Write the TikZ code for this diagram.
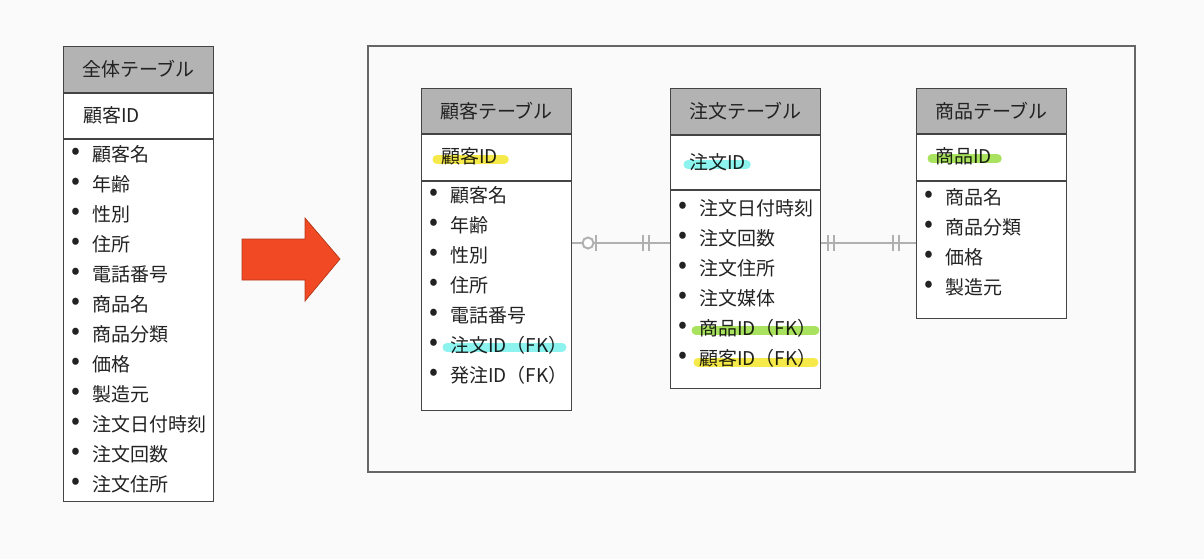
\documentclass[tikz,border=0pt]{standalone}
\usepackage{fontspec}
\setmainfont{Noto Sans CJK JP}
\usetikzlibrary{calc}
\definecolor{bg}{HTML}{FAFAFA}
\definecolor{txt}{HTML}{222222}
\definecolor{rim}{HTML}{444444}
\definecolor{headgray}{HTML}{B3B3B3}
\definecolor{relgray}{HTML}{B0B0B0}
\definecolor{arrowred}{HTML}{F04923}
\definecolor{hlyellow}{HTML}{F6EA4A}
\definecolor{hlcyan}{HTML}{8CF3EE}
\definecolor{hlgreen}{HTML}{A9E25E}

\begin{document}
\begin{tikzpicture}[x=0.02cm, y=-0.02cm,
    every node/.style={font=\fontsize{10.8}{13}\selectfont, text=txt},
    head/.style={draw=rim, fill=headgray, line width=0.6pt, anchor=north west, minimum width=3cm, inner sep=0pt},
    keyrow/.style={draw=rim, fill=white, line width=0.6pt, anchor=north west, minimum width=3cm, inner sep=0pt},
    body/.style={draw=rim, fill=white, line width=0.6pt, anchor=north west, minimum width=3cm, inner sep=0pt},
    key/.style={anchor=west, inner sep=0pt},
    dot/.style={inner sep=0pt, font=\fontsize{15}{15}\selectfont},
    field/.style={anchor=west, inner sep=0pt},
    rel/.style={draw=relgray, line width=1.1pt},
    hl/.style={line width=0.18cm, line cap=round, blend mode=multiply}
  ]
    % Fond
    \fill[bg] (0,0) rectangle (1204,559);

    % Cadre
    \draw[draw=black!60, line width=0.6pt] (368,46) rectangle (1135,472);

    % Fleche
    \draw[fill=arrowred, draw=arrowred!75!black, line width=0.4pt]
      (242,239) -- (305,239) -- (305,218) -- (340,259) -- (305,301) -- (305,280) -- (242,280) -- cycle;

    % 全体テーブル
    \node[head, minimum height=0.92cm] (ah) at (63,46) {全体テーブル};
    \node[keyrow, minimum height=0.9cm] (ak) at (ah.south west) {};
    \node[key] (akt) at ($(ak.west)+(20,-1)$) {顧客ID};
    \node[body, minimum height=7.24cm] (ab) at (ak.south west) {};
    \foreach \t [count=\i] in {顧客名,年齢,性別,住所,電話番号,商品名,商品分類,価格,製造元,注文日付時刻,注文回数,注文住所} {
      \node[dot] (ad\i) at ($(ab.north west)+(13,{15+(\i-1)*30})$) {\textbullet};
      \node[field] (af\i) at ($(ad\i)+(16,0)$) {\t};
    }

    % 顧客テーブル
    \node[head, minimum height=0.9cm] (kh) at (421,88) {顧客テーブル};
    \node[keyrow, minimum height=0.92cm] (kk) at (kh.south west) {};
    \node[key] (kkt) at ($(kk.west)+(20,-1)$) {顧客ID};
    \node[body, minimum height=4.58cm] (kb) at (kk.south west) {};
    \foreach \t [count=\i] in {顧客名,年齢,性別,住所,電話番号,注文ID（FK）,発注ID（FK）} {
      \node[dot] (kd\i) at ($(kb.north west)+(13,{14+(\i-1)*30})$) {\textbullet};
      \node[field] (kf\i) at ($(kd\i)+(16,0)$) {\t};
    }

    % 注文テーブル
    \node[head, minimum height=0.92cm] (oh) at (670,88) {注文テーブル};
    \node[keyrow, minimum height=1.08cm] (ok) at (oh.south west) {};
    \node[key] (okt) at ($(ok.west)+(19,0)$) {注文ID};
    \node[body, minimum height=3.96cm] (ob) at (ok.south west) {};
    \foreach \t [count=\i] in {注文日付時刻,注文回数,注文住所,注文媒体,商品ID（FK）,顧客ID（FK）} {
      \node[dot] (od\i) at ($(ob.north west)+(13,{18+(\i-1)*30})$) {\textbullet};
      \node[field] (of\i) at ($(od\i)+(16,0)$) {\t};
    }

    % 商品テーブル
    \node[head, minimum height=0.9cm] (sh) at (916,88) {商品テーブル};
    \node[keyrow, minimum height=0.92cm] (sk) at (sh.south west) {};
    \node[key] (skt) at ($(sk.west)+(19,-1)$) {商品ID};
    \node[body, minimum height=2.74cm] (sb) at (sk.south west) {};
    \foreach \t [count=\i] in {商品名,商品分類,価格,製造元} {
      \node[dot] (sd\i) at ($(sb.north west)+(13,{16+(\i-1)*30})$) {\textbullet};
      \node[field] (sf\i) at ($(sd\i)+(16,0)$) {\t};
    }

    % Surlignage
    \draw[hl, hlyellow] ([shift={(-4,3)}]kkt.west) -- ([shift={(6,3)}]kkt.east);
    \draw[hl, hlcyan] ([shift={(-3,2)}]kf6.west) -- ([shift={(-6,2)}]kf6.east);
    \draw[hl, hlcyan] ([shift={(-1,2)}]okt.west) -- ([shift={(0,2)}]okt.east);
    \draw[hl, hlgreen] ([shift={(-3,2)}]of5.west) -- ([shift={(-2,2)}]of5.east);
    \draw[hl, hlyellow] ([shift={(-1,4)}]of6.west) -- ([shift={(-3,4)}]of6.east);
    \draw[hl, hlgreen] ([shift={(-3,2)}]skt.west) -- ([shift={(5,2)}]skt.east);

    % Relations
    \coordinate (lvl) at (0,243);
    \draw[rel] (kb.east |- lvl) -- (ob.west |- lvl);
    \draw[rel] ($(kb.east |- lvl)+(24,-8)$) -- +(0,16);
    \draw[rel, fill=white] ($(kb.east |- lvl)+(16,0)$) circle[radius=0.11cm];
    \draw[rel] ($(ob.west |- lvl)+(-27,-8)$) -- +(0,16);
    \draw[rel] ($(ob.west |- lvl)+(-21,-8)$) -- +(0,16);

    \draw[rel] (ob.east |- lvl) -- (sb.west |- lvl);
    \draw[rel] ($(ob.east |- lvl)+(7,-8)$) -- +(0,16);
    \draw[rel] ($(ob.east |- lvl)+(13,-8)$) -- +(0,16);
    \draw[rel] ($(sb.west |- lvl)+(-23,-8)$) -- +(0,16);
    \draw[rel] ($(sb.west |- lvl)+(-17,-8)$) -- +(0,16);
  \end{tikzpicture}
\end{document}
